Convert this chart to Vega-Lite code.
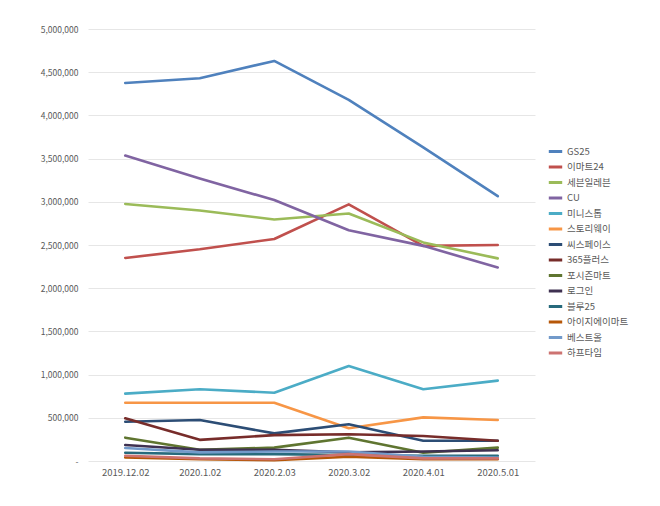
{
  "$schema": "https://vega.github.io/schema/vega-lite/v6.json",
  "autosize": {"type": "none"},
  "width": 447,
  "height": 432,
  "padding": {"left": 88, "top": 29, "right": 125, "bottom": 45},
  "background": "#ffffff",
  "config": {
    "font": "Noto Sans CJK KR",
    "view": {"stroke": null},
    "axis": {"labelFont": "Noto Sans CJK KR", "labelColor": "#595959", "labelFontSize": 9, "domain": false, "ticks": false, "title": null}
  },
  "data": {
    "values": [
      {"s": "GS25", "d": "2019.12.02", "v": 4375000},
      {"s": "GS25", "d": "2020.1.02", "v": 4430000},
      {"s": "GS25", "d": "2020.2.03", "v": 4630000},
      {"s": "GS25", "d": "2020.3.02", "v": 4180000},
      {"s": "GS25", "d": "2020.4.01", "v": 3630000},
      {"s": "GS25", "d": "2020.5.01", "v": 3065000},
      {"s": "이마트24", "d": "2019.12.02", "v": 2350000},
      {"s": "이마트24", "d": "2020.1.02", "v": 2450000},
      {"s": "이마트24", "d": "2020.2.03", "v": 2570000},
      {"s": "이마트24", "d": "2020.3.02", "v": 2970000},
      {"s": "이마트24", "d": "2020.4.01", "v": 2490000},
      {"s": "이마트24", "d": "2020.5.01", "v": 2500000},
      {"s": "세븐일레븐", "d": "2019.12.02", "v": 2975000},
      {"s": "세븐일레븐", "d": "2020.1.02", "v": 2900000},
      {"s": "세븐일레븐", "d": "2020.2.03", "v": 2795000},
      {"s": "세븐일레븐", "d": "2020.3.02", "v": 2865000},
      {"s": "세븐일레븐", "d": "2020.4.01", "v": 2530000},
      {"s": "세븐일레븐", "d": "2020.5.01", "v": 2345000},
      {"s": "CU", "d": "2019.12.02", "v": 3535000},
      {"s": "CU", "d": "2020.1.02", "v": 3270000},
      {"s": "CU", "d": "2020.2.03", "v": 3020000},
      {"s": "CU", "d": "2020.3.02", "v": 2670000},
      {"s": "CU", "d": "2020.4.01", "v": 2490000},
      {"s": "CU", "d": "2020.5.01", "v": 2240000},
      {"s": "미니스톱", "d": "2019.12.02", "v": 780000},
      {"s": "미니스톱", "d": "2020.1.02", "v": 830000},
      {"s": "미니스톱", "d": "2020.2.03", "v": 790000},
      {"s": "미니스톱", "d": "2020.3.02", "v": 1100000},
      {"s": "미니스톱", "d": "2020.4.01", "v": 830000},
      {"s": "미니스톱", "d": "2020.5.01", "v": 930000},
      {"s": "스토리웨이", "d": "2019.12.02", "v": 675000},
      {"s": "스토리웨이", "d": "2020.1.02", "v": 675000},
      {"s": "스토리웨이", "d": "2020.2.03", "v": 675000},
      {"s": "스토리웨이", "d": "2020.3.02", "v": 380000},
      {"s": "스토리웨이", "d": "2020.4.01", "v": 505000},
      {"s": "스토리웨이", "d": "2020.5.01", "v": 475000},
      {"s": "씨스페이스", "d": "2019.12.02", "v": 455000},
      {"s": "씨스페이스", "d": "2020.1.02", "v": 475000},
      {"s": "씨스페이스", "d": "2020.2.03", "v": 320000},
      {"s": "씨스페이스", "d": "2020.3.02", "v": 425000},
      {"s": "씨스페이스", "d": "2020.4.01", "v": 235000},
      {"s": "씨스페이스", "d": "2020.5.01", "v": 235000},
      {"s": "365플러스", "d": "2019.12.02", "v": 495000},
      {"s": "365플러스", "d": "2020.1.02", "v": 245000},
      {"s": "365플러스", "d": "2020.2.03", "v": 300000},
      {"s": "365플러스", "d": "2020.3.02", "v": 310000},
      {"s": "365플러스", "d": "2020.4.01", "v": 290000},
      {"s": "365플러스", "d": "2020.5.01", "v": 235000},
      {"s": "포시즌마트", "d": "2019.12.02", "v": 270000},
      {"s": "포시즌마트", "d": "2020.1.02", "v": 130000},
      {"s": "포시즌마트", "d": "2020.2.03", "v": 155000},
      {"s": "포시즌마트", "d": "2020.3.02", "v": 270000},
      {"s": "포시즌마트", "d": "2020.4.01", "v": 95000},
      {"s": "포시즌마트", "d": "2020.5.01", "v": 155000},
      {"s": "로그인", "d": "2019.12.02", "v": 185000},
      {"s": "로그인", "d": "2020.1.02", "v": 130000},
      {"s": "로그인", "d": "2020.2.03", "v": 130000},
      {"s": "로그인", "d": "2020.3.02", "v": 100000},
      {"s": "로그인", "d": "2020.4.01", "v": 110000},
      {"s": "로그인", "d": "2020.5.01", "v": 125000},
      {"s": "블루25", "d": "2019.12.02", "v": 95000},
      {"s": "블루25", "d": "2020.1.02", "v": 80000},
      {"s": "블루25", "d": "2020.2.03", "v": 80000},
      {"s": "블루25", "d": "2020.3.02", "v": 70000},
      {"s": "블루25", "d": "2020.4.01", "v": 60000},
      {"s": "블루25", "d": "2020.5.01", "v": 60000},
      {"s": "아이지에이마트", "d": "2019.12.02", "v": 40000},
      {"s": "아이지에이마트", "d": "2020.1.02", "v": 20000},
      {"s": "아이지에이마트", "d": "2020.2.03", "v": 10000},
      {"s": "아이지에이마트", "d": "2020.3.02", "v": 50000},
      {"s": "아이지에이마트", "d": "2020.4.01", "v": 20000},
      {"s": "아이지에이마트", "d": "2020.5.01", "v": 20000},
      {"s": "베스트올", "d": "2019.12.02", "v": 150000},
      {"s": "베스트올", "d": "2020.1.02", "v": 100000},
      {"s": "베스트올", "d": "2020.2.03", "v": 110000},
      {"s": "베스트올", "d": "2020.3.02", "v": 110000},
      {"s": "베스트올", "d": "2020.4.01", "v": 50000},
      {"s": "베스트올", "d": "2020.5.01", "v": 40000},
      {"s": "하프타임", "d": "2019.12.02", "v": 60000},
      {"s": "하프타임", "d": "2020.1.02", "v": 30000},
      {"s": "하프타임", "d": "2020.2.03", "v": 20000},
      {"s": "하프타임", "d": "2020.3.02", "v": 80000},
      {"s": "하프타임", "d": "2020.4.01", "v": 30000},
      {"s": "하프타임", "d": "2020.5.01", "v": 30000}
    ]
  },
  "mark": {"type": "line", "strokeWidth": 2.6, "strokeCap": "round", "strokeJoin": "round"},
  "encoding": {
    "x": {
      "field": "d", "type": "ordinal", "sort": null,
      "scale": {"type": "point", "padding": 0.5},
      "axis": {"labelAngle": 0, "labelPadding": 6, "grid": false, "labelFontSize": 9.5}
    },
    "y": {
      "field": "v", "type": "quantitative",
      "scale": {"domain": [0, 5000000], "nice": false},
      "axis": {"values": [0, 500000, 1000000, 1500000, 2000000, 2500000, 3000000, 3500000, 4000000, 4500000, 5000000], "format": ",d", "gridColor": "#e6e6e6", "labelPadding": 10, "labelFontSize": 8.5, "labelExpr": "datum.value == 0 ? '-' : datum.label"}
    },
    "color": {
      "field": "s", "type": "nominal",
      "scale": {
        "domain": ["GS25", "이마트24", "세븐일레븐", "CU", "미니스톱", "스토리웨이", "씨스페이스", "365플러스", "포시즌마트", "로그인", "블루25", "아이지에이마트", "베스트올", "하프타임"],
        "range": ["#4F81BD", "#C0504D", "#9BBB59", "#8064A2", "#4BACC6", "#F79646", "#2C4D75", "#772C2A", "#5F7530", "#3F3151", "#276A7C", "#B65708", "#729ACA", "#CD7371"]
      },
      "legend": {
        "title": null, "orient": "none", "legendX": 459, "legendY": 114,
        "symbolType": "stroke", "symbolSize": 180, "symbolStrokeWidth": 3,
        "labelFontSize": 9.5, "labelColor": "#595959", "rowPadding": 0.5, "labelOffset": 3
      }
    }
  }
}
